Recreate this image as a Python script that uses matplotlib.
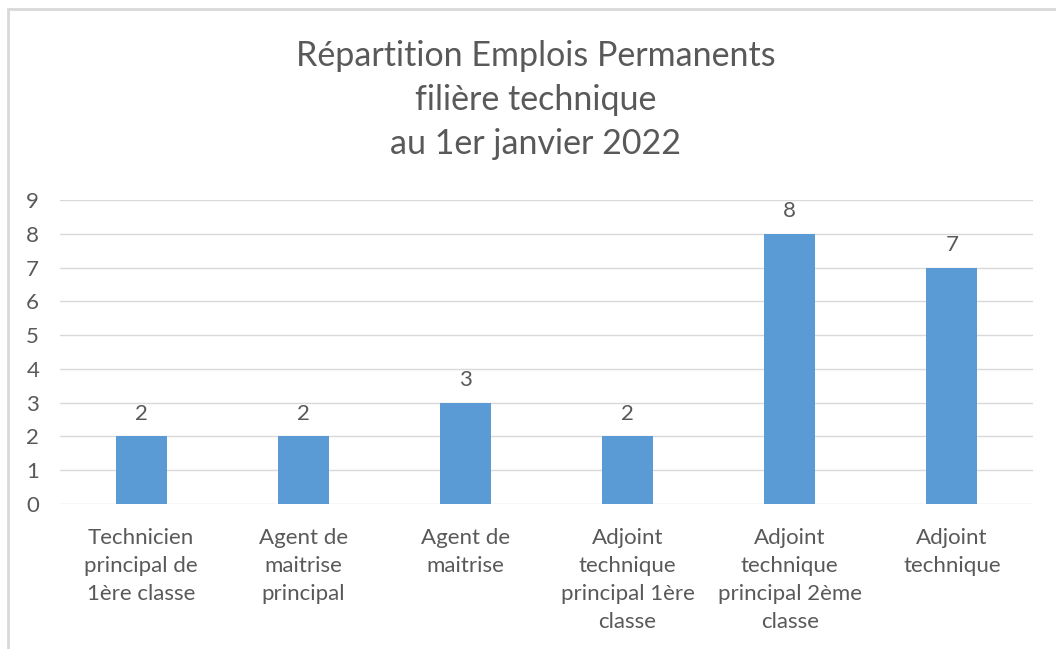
import matplotlib
matplotlib.use("Agg")
import matplotlib.pyplot as plt
from matplotlib.patches import Rectangle

categories = ["Technicien\nprincipal de\n1ère classe", "Agent de\nmaitrise\nprincipal", "Agent de\nmaitrise",
              "Adjoint\ntechnique\nprincipal 1ère\nclasse", "Adjoint\ntechnique\nprincipal 2ème\nclasse",
              "Adjoint\ntechnique"]
values = [2, 2, 3, 2, 8, 7]
yticks = [0, 1, 2, 3, 4, 5, 6, 7, 8, 9]
title = "Répartition Emplois Permanents\nfilière technique\nau 1er janvier 2022"

plt.rcParams['font.family'] = ['Lato', 'DejaVu Sans']
W, H = 1056, 649
fig = plt.figure(figsize=(W/100, H/100), dpi=100)
txt = "#595959"
grid = "#d9d9d9"

fig.patches.append(Rectangle((8/W, -0.1), 2.0, (H-9)/H + 0.1, transform=fig.transFigure,
                             fill=False, edgecolor=grid, linewidth=2))

ax = fig.add_axes([60/W, 1-504/H, (1033-60)/W, (504-200)/H])
x = list(range(len(values)))
bars = ax.bar(x, values, width=0.315, color="#5B9BD5", zorder=3)
ax.set_xlim(-0.5, len(values)-0.5)
ax.set_ylim(0, 9)
ax.set_yticks(yticks)
ax.set_xticks(x)
ax.set_xticklabels(categories, fontsize=16, color=txt, linespacing=1.5)
ax.tick_params(axis='y', length=0, pad=15, labelsize=16, labelcolor=txt)
ax.tick_params(axis='x', length=0, pad=17)
for s in ax.spines.values():
    s.set_visible(False)
ax.grid(axis='y', color=grid, linewidth=1, zorder=0)
for b, v in zip(bars, values):
    ax.annotate(str(v), (b.get_x()+b.get_width()/2, v), xytext=(0, 9), textcoords="offset points",
                ha="center", va="bottom", fontsize=16, color=txt)

fig.text(535.5/W, 1-100/H, title, ha="center", va="center", fontsize=24.5, color=txt, linespacing=1.48)
fig.savefig("out.png", dpi=100, facecolor="white")
